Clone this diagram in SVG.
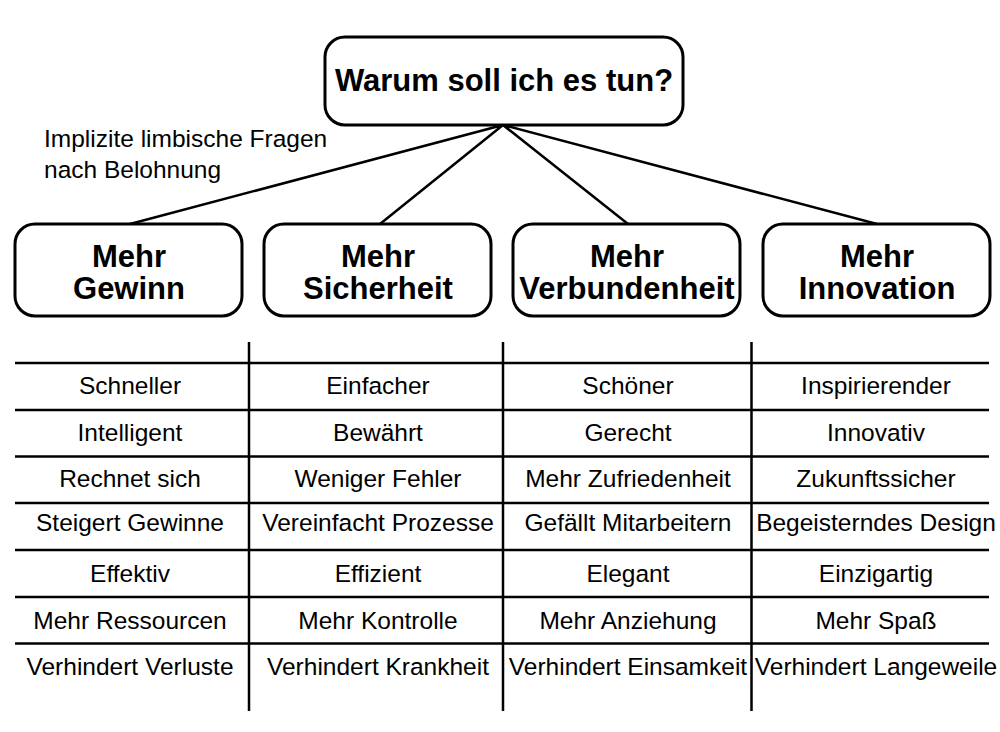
<svg xmlns="http://www.w3.org/2000/svg" width="1000" height="732" viewBox="0 0 1000 732">
<style>
.b{fill:#fff;stroke:#000;stroke-width:3}
.h{font-family:"Liberation Sans",Arial,sans-serif;font-weight:bold;font-size:31px;text-anchor:middle}
.t{font-family:"Liberation Sans",Arial,sans-serif;font-size:24.5px;text-anchor:middle}
.l{stroke:#000;stroke-width:2.5;fill:none}
</style>
<rect width="1000" height="732" fill="#fff"/>
<g id="connectors">
<path class="l" d="M503 125L130 224M503 125L380 224M503 125L628 224M503 125L877 224"/>
</g>
<g id="root"><rect class="b" x="325" y="37" width="358" height="88" rx="20"/><text class="h" x="504" y="91">Warum soll ich es tun?</text></g>
<text class="t" x="44" y="147" style="text-anchor:start">Implizite limbische Fragen</text>
<text class="t" x="44" y="178" style="text-anchor:start">nach Belohnung</text>
<g id="n1"><rect class="b" x="15" y="224" width="227" height="92" rx="20"/><text class="h" x="129" y="267">Mehr</text><text class="h" x="129" y="299">Gewinn</text></g>
<g id="n2"><rect class="b" x="264" y="224" width="227" height="92" rx="20"/><text class="h" x="378" y="267">Mehr</text><text class="h" x="378" y="299">Sicherheit</text></g>
<g id="n3"><rect class="b" x="513" y="224" width="227" height="92" rx="20"/><text class="h" x="627" y="267">Mehr</text><text class="h" x="627" y="299">Verbundenheit</text></g>
<g id="n4"><rect class="b" x="763" y="224" width="227" height="92" rx="20"/><text class="h" x="877" y="267">Mehr</text><text class="h" x="877" y="299">Innovation</text></g>
<g id="table">
<path class="l" d="M15 363H989M15 410H989M15 456.5H989M15 503H989M15 550H989M15 597H989M15 643.5H989M249 342V711M503 342V711M751.5 342V711"/>
<g class="t">
<text x="130" y="394">Schneller</text><text x="130" y="441">Intelligent</text><text x="130" y="487">Rechnet sich</text><text x="130" y="531">Steigert Gewinne</text><text x="130" y="582">Effektiv</text><text x="130" y="629">Mehr Ressourcen</text><text x="130" y="675">Verhindert Verluste</text>
<text x="378" y="394">Einfacher</text><text x="378" y="441">Bewährt</text><text x="378" y="487">Weniger Fehler</text><text x="378" y="531">Vereinfacht Prozesse</text><text x="378" y="582">Effizient</text><text x="378" y="629">Mehr Kontrolle</text><text x="378" y="675">Verhindert Krankheit</text>
<text x="628" y="394">Schöner</text><text x="628" y="441">Gerecht</text><text x="628" y="487">Mehr Zufriedenheit</text><text x="628" y="531">Gefällt Mitarbeitern</text><text x="628" y="582">Elegant</text><text x="628" y="629">Mehr Anziehung</text><text x="628" y="675">Verhindert Einsamkeit</text>
<text x="876" y="394">Inspirierender</text><text x="876" y="441">Innovativ</text><text x="876" y="487">Zukunftssicher</text><text x="876" y="531">Begeisterndes Design</text><text x="876" y="582">Einzigartig</text><text x="876" y="629">Mehr Spaß</text><text x="876" y="675">Verhindert Langeweile</text>
</g>
</g>
</svg>
